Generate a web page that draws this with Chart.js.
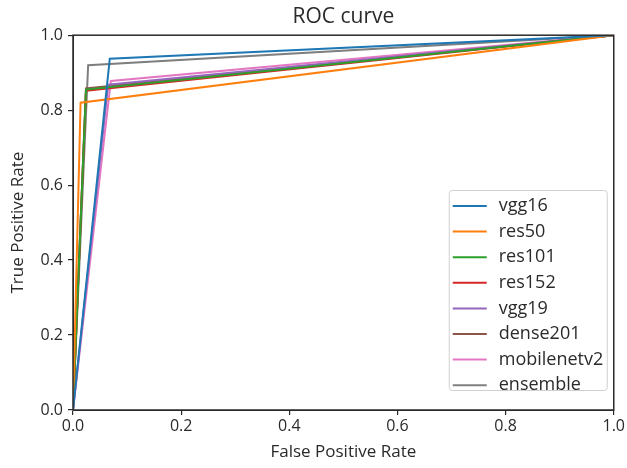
<!DOCTYPE html>
<html>
<head>
<meta charset="utf-8">
<script src="https://cdn.jsdelivr.net/npm/chart.js@4/dist/chart.umd.min.js"></script>
<style>
  html, body { margin: 0; padding: 0; background: #fff; }
  #wrap { width: 627px; height: 468px; }
</style>
</head>
<body>
<div id="wrap"><canvas id="roc"></canvas></div>
<script>
// ROC curves: (0,0) -> knee -> (1,1)
const models = ['vgg16', 'res50', 'res101', 'res152', 'vgg19', 'dense201', 'mobilenetv2', 'ensemble'];
const fprValues = [
  [0, 0.068, 1],
  [0, 0.014, 1],
  [0, 0.024, 1],
  [0, 0.024, 1],
  [0, 0.065, 1],
  [0, 0.024, 1],
  [0, 0.07, 1],
  [0, 0.028, 1]
];
const tprValues = [
  [0, 0.937, 1],
  [0, 0.82, 1],
  [0, 0.855, 1],
  [0, 0.852, 1],
  [0, 0.868, 1],
  [0, 0.858, 1],
  [0, 0.878, 1],
  [0, 0.92, 1]
];
const colors = ['#1f77b4', '#ff7f0e', '#2ca02c', '#d62728', '#9467bd', '#8c564b', '#e377c2', '#7f7f7f'];
const axisTicks = [0, 0.2, 0.4, 0.6, 0.8, 1.0];

const font = "'Open Sans', sans-serif";
const ink = '#2a2a2a';

// matplotlib-style legend box in the lower right of the axes
const boxLegend = {
  id: 'boxLegend',
  afterDatasetsDraw(chart) {
    const { ctx, chartArea } = chart;
    const w = 158, rowH = 25.6, h = 200;
    const x0 = chartArea.right - 165, y0 = chartArea.bottom - 220;
    ctx.save();
    ctx.fillStyle = 'rgba(255,255,255,0.85)';
    ctx.strokeStyle = '#d0d0d0';
    ctx.lineWidth = 1;
    ctx.beginPath();
    ctx.roundRect(x0 + 0.5, y0 + 0.5, w, h, 3);
    ctx.fill();
    ctx.stroke();
    ctx.font = '18px ' + font;
    ctx.textBaseline = 'middle';
    chart.data.datasets.forEach((ds, i) => {
      const yy = y0 + 16 + i * rowH;
      ctx.strokeStyle = ds.borderColor;
      ctx.lineWidth = 2;
      ctx.beginPath();
      ctx.moveTo(x0 + 4, yy);
      ctx.lineTo(x0 + 38, yy);
      ctx.stroke();
      ctx.fillStyle = ink;
      ctx.fillText(ds.label, x0 + 50, yy);
    });
    // axes frame
    ctx.strokeStyle = ink;
    ctx.lineWidth = 1.5;
    ctx.strokeRect(chartArea.left, chartArea.top,
      chartArea.right - chartArea.left, chartArea.bottom - chartArea.top);
    ctx.restore();
  }
};

new Chart(document.getElementById('roc').getContext('2d'), {
  type: 'line',
  data: {
    datasets: models.map((m, i) => ({
      label: m,
      data: fprValues[i].map((x, j) => ({ x: x, y: tprValues[i][j] })),
      borderColor: colors[i],
      borderWidth: 2,
      pointRadius: 0,
      tension: 0,
      fill: false
    }))
  },
  options: {
    responsive: true,
    maintainAspectRatio: false,
    animation: false,
    layout: { padding: { right: 12 } },
    plugins: {
      legend: { display: false },
      tooltip: { enabled: false },
      title: {
        display: true,
        fullSize: false,
        text: 'ROC curve',
        color: ink,
        font: { family: font, size: 21, weight: 'normal' },
        padding: { top: 4, bottom: 6 }
      }
    },
    scales: {
      x: {
        type: 'linear',
        min: 0, max: 1,
        afterBuildTicks: s => { s.ticks = axisTicks.map(v => ({ value: v })); },
        afterFit: s => { s.height = 58; },
        ticks: { color: ink, font: { family: font, size: 16 }, padding: 2, maxRotation: 0, callback: v => v.toFixed(1) },
        grid: { drawOnChartArea: false, drawTicks: true, tickLength: 5, color: ink, lineWidth: 1.2 },
        border: { color: ink },
        title: { display: true, text: 'False Positive Rate', color: ink, font: { family: font, size: 17 }, padding: { top: 0, bottom: 6 } }
      },
      y: {
        type: 'linear',
        min: 0, max: 1,
        afterBuildTicks: s => { s.ticks = axisTicks.map(v => ({ value: v })); },
        afterFit: s => { s.width = 73; },
        ticks: { color: ink, font: { family: font, size: 16 }, padding: 5, callback: v => v.toFixed(1) },
        grid: { drawOnChartArea: false, drawTicks: true, tickLength: 5, color: ink, lineWidth: 1.2 },
        border: { color: ink },
        title: { display: true, text: 'True Positive Rate', color: ink, font: { family: font, size: 17 }, padding: { top: 8, bottom: 0 } }
      }
    }
  },
  plugins: [boxLegend]
});
</script>
</body>
</html>
